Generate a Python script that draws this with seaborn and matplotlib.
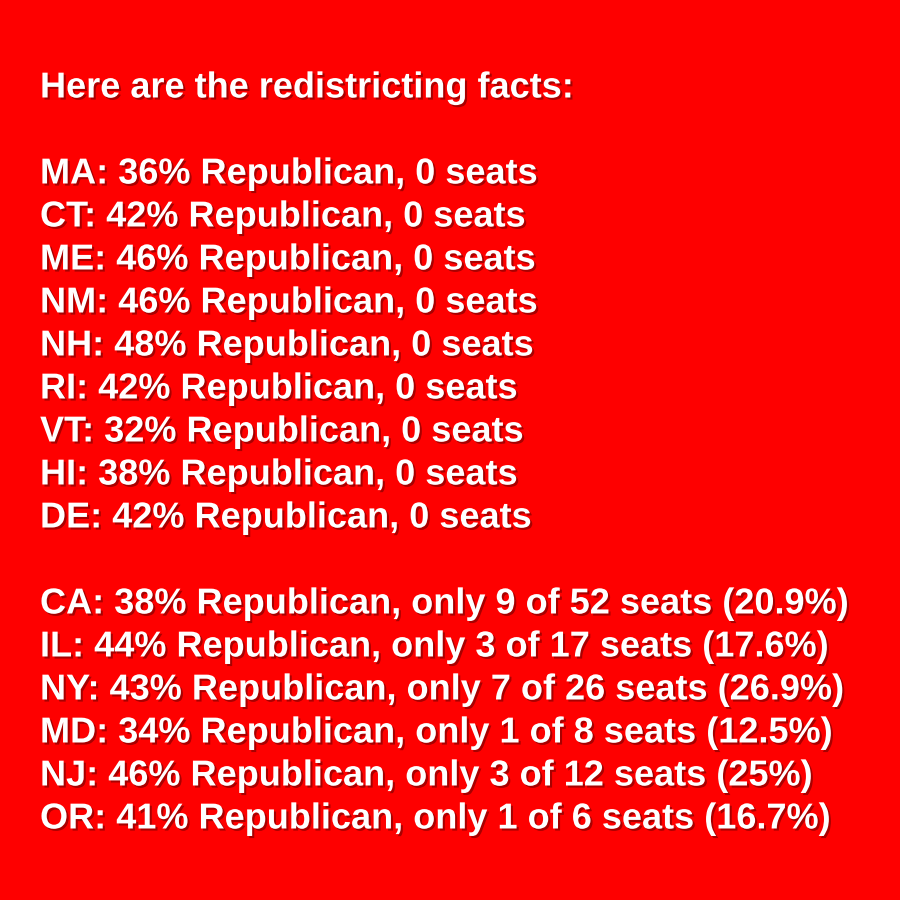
import matplotlib
matplotlib.use("Agg")
import matplotlib.pyplot as plt
import matplotlib.patheffects as pe
import seaborn as sns

title = "Here are the redistricting facts:"
states0 = ["MA", "CT", "ME", "NM", "NH", "RI", "VT", "HI", "DE"]
pct0 = [36, 42, 46, 46, 48, 42, 32, 38, 42]
states1 = ["CA", "IL", "NY", "MD", "NJ", "OR"]
pct1 = [38, 44, 43, 34, 46, 41]
won1 = [9, 3, 7, 1, 3, 1]
total1 = [52, 17, 26, 8, 12, 6]
share1 = ["20.9%", "17.6%", "26.9%", "12.5%", "25%", "16.7%"]

sns.set_theme(style="white")
fig = plt.figure(figsize=(9, 9), dpi=100)
fig.patch.set_facecolor("#fe0000")
ax = fig.add_axes([0, 0, 1, 1])
ax.set_facecolor("#fe0000")
ax.set_xlim(0, 900)
ax.set_ylim(900, 0)
ax.axis("off")

lines = [(title, 88)]
for i, (s, p) in enumerate(zip(states0, pct0)):
    lines.append((f"{s}: {p}% Republican, 0 seats", 174 + 43 * i))
for i, (s, p, w, t, sh) in enumerate(zip(states1, pct1, won1, total1, share1)):
    lines.append((f"{s}: {p}% Republican, only {w} of {t} seats ({sh})", 604 + 43 * i))

fx = [pe.withSimplePatchShadow(offset=(1.5, -1.5), shadow_rgbFace="#700000", alpha=0.6)]
for txt, y in lines:
    ax.text(40, y, txt, fontsize=26, fontweight="bold", family="Liberation Sans",
            color="white", va="center", ha="left", path_effects=fx)

fig.savefig("out.png", dpi=100, facecolor=fig.get_facecolor())
